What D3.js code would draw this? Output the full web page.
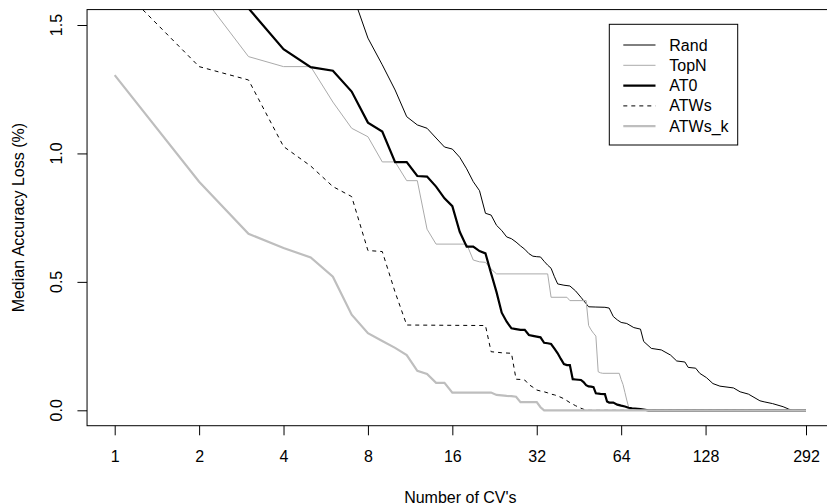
<!DOCTYPE html>
<html>
<head>
<meta charset="utf-8">
<script src="https://cdn.jsdelivr.net/npm/d3@7"></script>
<style>
  body { margin: 0; background: #fff; }
  text { font-family: "Liberation Sans", Arial, sans-serif; }
</style>
</head>
<body>
<div id="chart"></div>
<script>
// tick labels
let xTicks = [1, 2, 4, 8, 16, 32, 64, 128, 292];
let yTicks = [0, 0.5, 1.0, 1.5];

// series: [number of CVs, median accuracy loss]
let rand = [[7,1.63],[8,1.449],[9,1.345],[10,1.247],[11,1.143],[12,1.111],[13,1.098],[14,1.06],[15,1.025],
  [16,1.017],[17,0.985],[18,0.94],[19,0.89],[20,0.855],[21,0.767],[22,0.76],[23,0.72],[24,0.70],[25,0.675],
  [26,0.668],[27,0.655],[28,0.64],[29,0.627],[30,0.61],[31,0.6],[32,0.598],[33,0.597],[34,0.58],[35,0.565],
  [36,0.553],[37,0.52],[38,0.492],[40,0.487],[42,0.484],[44,0.465],[46,0.44],[48,0.415],[49,0.403],[52,0.402],
  [56,0.401],[58,0.398],[60,0.365],[62,0.352],[64,0.342],[67,0.338],[71,0.322],[75,0.316],[77,0.268],[82,0.241],
  [89,0.235],[96,0.215],[101,0.192],[108,0.188],[111,0.167],[118,0.164],[122,0.144],[129,0.127],[136,0.104],
  [144,0.094],[161,0.087],[170,0.072],[182,0.063],[200,0.037],[207,0.033],[222,0.026],[242,0.014],[253,0.005],
  [260,0],[292,0]];
let topN = [[2,1.63],[3,1.377],[4,1.338],[5,1.338],[6,1.20],[7,1.098],[8,1.065],[9,0.967],[10,0.967],[11,0.894],
  [12,0.894],[13,0.705],[14,0.647],[18,0.647],[19,0.585],[20,0.578],[21,0.576],[22,0.55],[23,0.531],[35,0.531],
  [36,0.44],[41,0.44],[42,0.427],[48,0.427],[49,0.33],[50,0.313],[51,0.30],[52,0.289],[53,0.15],[54,0.146],
  [55,0.144],[63,0.144],[64,0.12],[65,0.10],[66,0.07],[67,0.04],[68,0.014],[69,0],[292,0]];
let at0 = [[3,1.565],[4,1.406],[5,1.336],[6,1.322],[7,1.241],[8,1.12],[9,1.085],[10,0.966],[11,0.966],[12,0.912],
  [13,0.91],[14,0.871],[15,0.825],[16,0.795],[17,0.695],[18,0.637],[19,0.637],[20,0.62],[21,0.611],[22,0.533],
  [23,0.46],[24,0.38],[25,0.345],[26,0.319],[27,0.316],[28,0.313],[29,0.313],[30,0.293],[31,0.29],[32,0.287],
  [33,0.284],[34,0.263],[35,0.261],[36,0.258],[37,0.24],[38,0.222],[39,0.2],[40,0.18],[41,0.176],[42,0.176],
  [43,0.121],[44,0.12],[45,0.119],[46,0.118],[47,0.11],[48,0.098],[49,0.093],[50,0.092],[51,0.09],[52,0.066],
  [54,0.064],[56,0.063],[57,0.034],[58,0.03],[60,0.03],[62,0.022],[64,0.018],[66,0.015],[68,0.01],[70,0.008],
  [75,0.005],[80,0],[292,0]];
let atws = [[1,1.67],[2,1.338],[3,1.286],[4,1.027],[5,0.951],[6,0.871],[7,0.832],[8,0.622],[9,0.618],[10,0.46],
  [11,0.332],[21,0.33],[22,0.228],[23,0.226],[24,0.224],[26,0.222],[27,0.121],[28,0.12],[29,0.118],[30,0.1],
  [31,0.09],[32,0.079],[33,0.075],[34,0.072],[35,0.068],[36,0.063],[37,0.06],[38,0.056],[40,0.045],[42,0.03],
  [44,0.018],[46,0.008],[48,0],[292,0]];
let atwsK = [[1,1.305],[2,0.89],[3,0.687],[4,0.632],[5,0.595],[6,0.52],[7,0.372],[8,0.30],[9,0.27],[10,0.243],
  [11,0.215],[12,0.154],[13,0.141],[14,0.107],[15,0.107],[16,0.069],[22,0.069],[23,0.06],[24,0.058],[25,0.056],
  [26,0.055],[27,0.053],[28,0.032],[32,0.032],[33,0.012],[34,0],[292,0]];

let seriesNames = ["Rand", "TopN", "AT0", "ATWs", "ATWs_k"];
let seriesData = [rand, topN, at0, atws, atwsK];
let seriesColor = ["#000000", "#aaaaaa", "#000000", "#000000", "#bebebe"];
let seriesWidth = [1, 1, 2.2, 1, 2.2];
let seriesDash = [null, null, null, "4,4", null];

let width = 827, height = 504;

let svg = d3.select("#chart")
  .append("svg")
    .attr("width", width)
    .attr("height", height);

// R-style scales: data range extended by 4% on each side
let x = d3.scaleLog().base(2)
  .domain([1, 292])
  .range([114.7, 806]);
let y = d3.scaleLinear()
  .domain([0, 1.5])
  .range([410.3, 25]);

let xl = x(1) - 0.04 * (x(292) - x(1)),
    xr = x(292) + 0.04 * (x(292) - x(1)),
    yb = y(0) + 0.04 * (y(0) - y(1.5)),
    yt = y(1.5) - 0.04 * (y(0) - y(1.5));

svg.append("clipPath").attr("id", "clip")
  .append("rect")
    .attr("x", xl).attr("y", yt)
    .attr("width", xr - xl).attr("height", yb - yt);

// lines
let line = d3.line()
  .x(function(d) { return x(d[0]); })
  .y(function(d) { return y(d[1]); });

let plot = svg.append("g").attr("clip-path", "url(#clip)");
seriesData.forEach(function(s, i) {
  plot.append("path")
    .datum(s)
    .attr("fill", "none")
    .attr("stroke", seriesColor[i])
    .attr("stroke-width", seriesWidth[i])
    .attr("stroke-dasharray", seriesDash[i])
    .attr("d", line);
});

// box
svg.append("rect")
  .attr("x", xl).attr("y", yt)
  .attr("width", xr - xl).attr("height", yb - yt)
  .attr("fill", "none")
  .attr("stroke", "#000")
  .attr("stroke-width", 1);

// x axis
let xAxis = svg.append("g")
  .attr("transform", "translate(0," + yb + ")")
  .call(d3.axisBottom(x).tickValues(xTicks).tickFormat(d3.format("d")).tickSize(9.6).tickPadding(15));
xAxis.select(".domain").remove();
xAxis.selectAll("text").attr("font-size", 16).attr("fill", "#000")
  .attr("font-family", "'Liberation Sans', Arial, sans-serif");

// y axis
let yAxis = svg.append("g")
  .attr("transform", "translate(" + xl + ",0)")
  .call(d3.axisLeft(y).tickValues(yTicks).tickFormat(d3.format(".1f")).tickSize(9.6));
yAxis.select(".domain").remove();
yAxis.selectAll("text").remove();
yTicks.forEach(function(t) {
  svg.append("text")
    .attr("transform", "translate(56.7," + y(t) + ") rotate(-90)")
    .attr("text-anchor", "middle")
    .attr("dominant-baseline", "central")
    .attr("font-size", 16)
    .text(d3.format(".1f")(t));
});

// axis titles
svg.append("text")
  .attr("x", (xl + xr) / 2)
  .attr("y", 497)
  .attr("text-anchor", "middle")
  .attr("dominant-baseline", "central")
  .attr("font-size", 16)
  .text("Number of CV's");

svg.append("text")
  .attr("transform", "translate(18," + (yt + yb) / 2 + ") rotate(-90)")
  .attr("text-anchor", "middle")
  .attr("dominant-baseline", "central")
  .attr("font-size", 16)
  .text("Median Accuracy Loss (%)");

// legend
let legend = svg.append("g");
legend.append("rect")
  .attr("x", 609.3).attr("y", 24.3)
  .attr("width", 128.4).attr("height", 120.7)
  .attr("fill", "#fff")
  .attr("stroke", "#000");
seriesNames.forEach(function(name, i) {
  let ly = 45 + i * 20.3;
  legend.append("line")
    .attr("x1", 623.3).attr("x2", 655.5)
    .attr("y1", ly).attr("y2", ly)
    .attr("stroke", seriesColor[i])
    .attr("stroke-width", seriesWidth[i])
    .attr("stroke-dasharray", seriesDash[i]);
  legend.append("text")
    .attr("x", 669.3).attr("y", ly)
    .attr("dominant-baseline", "central")
    .attr("font-size", 16)
    .text(name);
});
</script>
</body>
</html>
